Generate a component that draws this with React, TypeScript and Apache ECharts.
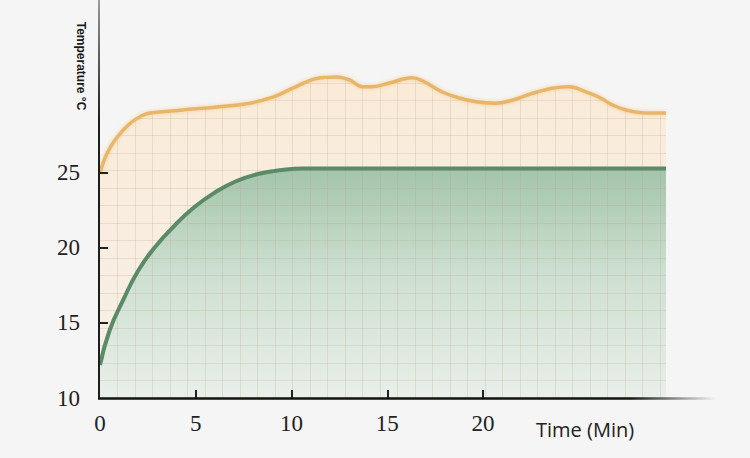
import React, { useEffect, useRef } from 'react';
import * as echarts from 'echarts';

// Ambient / outer temperature curve (orange)
const orangeTime = [0, 0.26, 0.78, 1.56, 2.24, 2.61, 4.33, 6.1, 7.82, 9.02, 10.06, 11.31, 12.35, 13.03, 13.7, 14.23, 15.11, 16.31, 16.83, 17.87, 18.76, 19.65, 20.69, 21.52, 22.56, 23.61, 24.49, 25.38, 26.06, 26.73, 27.46, 28.5, 29.55];
const orangeTemp = [25.0, 26.0, 27.2, 28.3, 28.85, 29.0, 29.2, 29.4, 29.65, 30.05, 30.65, 31.3, 31.4, 31.2, 30.75, 30.75, 31.0, 31.35, 31.15, 30.4, 30.0, 29.75, 29.65, 29.85, 30.3, 30.65, 30.75, 30.4, 30.05, 29.55, 29.2, 29.0, 29.0];

// Controlled temperature curve (green)
const greenTime = [0, 0.5, 1.2, 2.0, 2.9, 3.9, 4.9, 6.0, 7.1, 8.3, 9.5, 10.6, 13, 17, 21, 25, 29.55];
const greenTemp = [12.2, 14.5, 16.5, 18.5, 20.1, 21.5, 22.7, 23.7, 24.45, 24.95, 25.2, 25.3, 25.3, 25.3, 25.3, 25.3, 25.3];

const xLabelValues = [0, 5, 10, 15, 20];
const xTickValues = [5, 10, 15, 20];
const yLabelValues = [10, 15, 20, 25];
const yTickValues = [15, 20, 25];

const xName = 'Time (Min)';
const yName = 'Temperature °C';

export default function App() {
  const ref = useRef<HTMLDivElement>(null);

  useEffect(() => {
    document.body.style.margin = '0';
    document.body.style.background = '#f5f5f5';
    const chart = echarts.init(ref.current!, null, { renderer: 'svg' });

    const orangePairs = orangeTime.map((t, i) => [t, orangeTemp[i]]);
    const greenPairs = greenTime.map((t, i) => [t, greenTemp[i]]);

    const labelFont = {
      fontFamily: 'Liberation Serif',
      fontSize: 23,
      color: '#222',
    };
    const gridColor = 'rgba(185,165,140,0.24)';

    const option: any = {
      animation: false,
      backgroundColor: '#f5f5f5',
      grid: { left: 100, right: 84, top: 0, bottom: 60 },
      xAxis: [
        {
          type: 'value',
          min: 0,
          max: 29.55,
          z: 5,
          axisLine: { show: false },
          axisTick: {
            show: true,
            inside: true,
            length: 8,
            customValues: xTickValues,
            lineStyle: { color: '#222', width: 2 },
          },
          axisLabel: { customValues: xLabelValues, margin: 14, ...labelFont },
          splitLine: { show: false },
        },
        {
          type: 'value',
          min: 0,
          max: 32.34,
          interval: 1,
          position: 'top',
          z: 2,
          axisLine: { show: false },
          axisTick: { show: false },
          axisLabel: { show: false },
          splitLine: {
            show: true,
            showMinLine: false,
            showMaxLine: false,
            lineStyle: { color: gridColor, width: 1 },
          },
        },
      ],
      yAxis: [
        {
          type: 'value',
          min: 10,
          max: 36.53,
          z: 5,
          axisLine: { show: false },
          axisTick: {
            show: true,
            inside: true,
            length: 8,
            customValues: yTickValues,
            lineStyle: { color: '#222', width: 2 },
          },
          axisLabel: { customValues: yLabelValues, margin: 20, ...labelFont },
          splitLine: { show: false },
        },
        {
          type: 'value',
          min: 0,
          max: 22.74,
          interval: 1,
          position: 'right',
          z: 2,
          axisLine: { show: false },
          axisTick: { show: false },
          axisLabel: { show: false },
          splitLine: {
            show: true,
            showMinLine: false,
            showMaxLine: false,
            lineStyle: { color: gridColor, width: 1 },
          },
        },
      ],
      series: [
        {
          name: 'orangeArea',
          type: 'line',
          data: orangePairs,
          smooth: 0.4,
          symbol: 'none',
          silent: true,
          z: 1,
          lineStyle: { width: 0, opacity: 0 },
          areaStyle: {
            opacity: 1,
            color: new echarts.graphic.LinearGradient(0, 0, 0, 1, [
              { offset: 0, color: '#faebd8' },
              { offset: 1, color: '#f6efe8' },
            ]),
          },
        },
        {
          name: 'greenArea',
          type: 'line',
          data: greenPairs,
          smooth: 0.5,
          symbol: 'none',
          silent: true,
          z: 1,
          lineStyle: { width: 0, opacity: 0 },
          areaStyle: {
            opacity: 1,
            color: new echarts.graphic.LinearGradient(0, 0, 0, 1, [
              { offset: 0, color: '#a3c4aa' },
              { offset: 0.45, color: '#cddfd0' },
              { offset: 1, color: '#e9efe9' },
            ]),
          },
        },
        {
          name: 'cover',
          type: 'line',
          data: orangePairs,
          smooth: 0.4,
          symbol: 'none',
          silent: true,
          z: 3,
          lineStyle: { width: 0, opacity: 0 },
          areaStyle: { origin: 'end', opacity: 1, color: '#f5f5f5' },
        },
        {
          name: 'orangeLine',
          type: 'line',
          data: orangePairs,
          smooth: 0.4,
          symbol: 'none',
          silent: true,
          z: 4,
          lineStyle: {
            color: '#e8b66b',
            width: 3.5,
            shadowBlur: 4,
            shadowColor: 'rgba(240,190,110,0.6)',
          },
        },
        {
          name: 'greenLine',
          type: 'line',
          data: greenPairs,
          smooth: 0.5,
          symbol: 'none',
          silent: true,
          z: 4,
          lineStyle: { color: '#5b8a68', width: 4 },
        },
      ],
      graphic: [
        {
          type: 'line',
          z: 10,
          shape: { x1: 99, y1: 0, x2: 99, y2: 398 },
          style: {
            lineWidth: 2,
            stroke: new echarts.graphic.LinearGradient(0, 0, 0, 398, [
              { offset: 0, color: '#9a9a9a' },
              { offset: 0.3, color: '#1e1e1e' },
              { offset: 1, color: '#1e1e1e' },
            ], true),
          },
        },
        {
          type: 'line',
          z: 10,
          shape: { x1: 98, y1: 398.5, x2: 716, y2: 398.5 },
          style: {
            lineWidth: 2.5,
            stroke: new echarts.graphic.LinearGradient(98, 0, 716, 0, [
              { offset: 0, color: '#111' },
              { offset: 0.86, color: '#111' },
              { offset: 1, color: 'rgba(17,17,17,0)' },
            ], true),
          },
        },
        {
          type: 'text',
          z: 10,
          x: 81,
          y: 66,
          rotation: -Math.PI / 2,
          style: {
            text: yName,
            font: 'bold 12px "Liberation Sans"',
            fill: '#1a1a1a',
            align: 'center',
            verticalAlign: 'middle',
          },
        },
        {
          type: 'text',
          z: 10,
          x: 536,
          y: 429,
          style: {
            text: xName,
            font: '20px "Open Sans"',
            fill: '#222',
            align: 'left',
            verticalAlign: 'middle',
          },
        },
      ],
    };

    chart.setOption(option);
    return () => chart.dispose();
  }, []);

  return <div ref={ref} style={{ width: 750, height: 458, background: '#f5f5f5' }} />;
}
